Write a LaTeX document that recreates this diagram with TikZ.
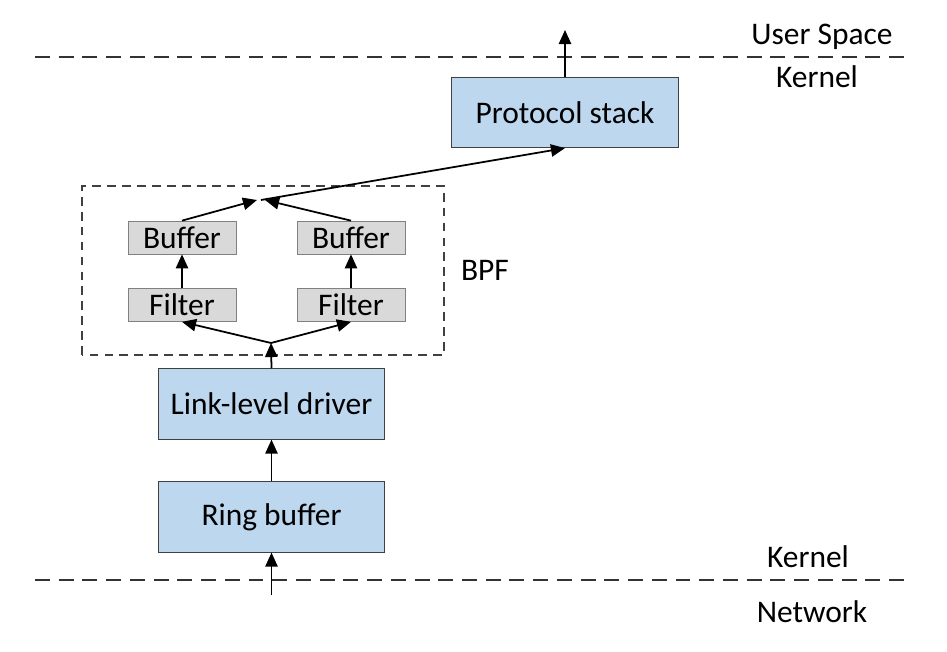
\documentclass[tikz,border=0pt]{standalone}
\usepackage{fontspec}
\setmainfont{Carlito}
\usepackage{tikz}
\usetikzlibrary{arrows.meta}
\usetikzlibrary{calc}

\definecolor{boxblue}{RGB}{189,215,238}
\definecolor{boxgray}{RGB}{217,217,217}

\tikzset{
  bluebox/.style={draw=black!75, fill=boxblue, minimum width=4.53cm, minimum height=1.41cm, inner sep=0pt},
  graybox/.style={draw=black!50, fill=boxgray, minimum width=2.16cm, minimum height=0.66cm, inner sep=0pt},
  flow/.style={line width=1pt, -{Triangle[length=8pt, width=7pt]}},
  layerline/.style={line width=1pt, black!80, dash pattern=on 8.5pt off 5pt},
  label/.style={inner sep=0pt}
}

\begin{document}
\begin{tikzpicture}[font=\fontsize{17.9}{20}\selectfont]

\useasboundingbox (0,0) rectangle (18.94,13.02);

% layer borders
\draw[layerline] (0.7,11.88) -- (18.1,11.88);
\draw[layerline] (0.7,1.42) -- (18.1,1.42);

\path
(16.44,12.28) node[label] (user) {User Space}
(16.34,11.48) node[label] (kerneltop) {Kernel}
(16.16,1.88) node[label] (kernelbot) {Kernel}
(16.24,0.78) node[label] (network) {Network};

% BPF region
\draw[line width=1pt, black!75, dash pattern=on 5pt off 3.5pt] (1.64,5.92) rectangle (8.88,9.30);
\node[label] (bpf) at (9.70,7.62) {BPF};

\node[bluebox] (proto) at (11.30,10.77) {Protocol stack};
\node[bluebox] (driver) at (5.43,4.94) {Link-level driver};
\node[bluebox] (ring) at (5.43,2.68) {Ring buffer};

\node[graybox] (buf1) at (3.64,8.27) {Buffer};
\node[graybox] (buf2) at (7.02,8.27) {Buffer};
\node[graybox] (fil1) at (3.64,6.92) {Filter};
\node[graybox] (fil2) at (7.02,6.92) {Filter};

\coordinate (merge) at (5.22,9.02);
\coordinate (split) at (5.42,6.16);
\coordinate (wire) at (5.43,1.12);
\coordinate (app) at (11.30,12.42);

\draw[flow] (wire) -- (ring.south);
\draw[flow] (ring) -- (driver);
\draw[flow] (driver.north) -- (split);
\draw[flow] (split) -- (fil1.south);
\draw[flow] (split) -- (fil2.south);
\draw[flow] (fil1) -- (buf1);
\draw[flow] (fil2) -- (buf2);
\draw[flow] (buf1.north) -- ($(merge)+(-0.08,0)$);
\draw[flow] (buf2.north) -- ($(merge)+(0.08,0)$);
\draw[flow] (merge) -- (proto.south);
\draw[flow] (proto.north) -- (app);

\end{tikzpicture}
\end{document}
